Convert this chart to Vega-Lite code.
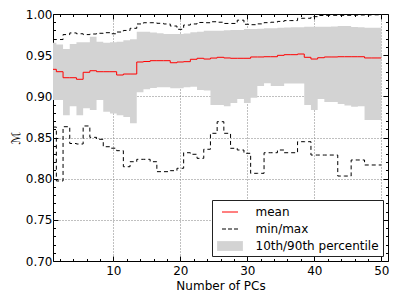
{
  "$schema": "https://vega.github.io/schema/vega-lite/v6.json",
  "width": 335,
  "height": 247,
  "autosize": {"type": "none"},
  "padding": {"left": 53, "top": 14, "right": 11, "bottom": 40},
  "config": {
    "font": "DejaVu Sans",
    "view": {"stroke": "black", "strokeWidth": 1},
    "axis": {
      "labelFont": "DejaVu Sans", "labelFontSize": 12, "labelColor": "black",
      "titleFont": "DejaVu Sans", "titleFontSize": 12, "titleFontWeight": "normal", "titleColor": "black",
      "tickColor": "black", "tickWidth": 1, "domain": false,
      "gridColor": "#808080", "gridDash": [1, 2], "gridWidth": 1,
      "labelFlush": false, "labelOverlap": false
    },
    "legend": {
      "title": null, "orient": "bottom-right", "offset": 5.5, "padding": 3.5,
      "fillColor": "white", "strokeColor": "#222222", "cornerRadius": 0,
      "symbolType": "stroke", "symbolSize": 256, "symbolOffset": 6, "labelOffset": 17,
      "labelFont": "DejaVu Sans", "labelFontSize": 12, "labelColor": "black", "rowPadding": 2
    }
  },
  "data": {"values": [
    {"x":1,"mean":0.9328,"min":0.8627,"max":0.969,"p10":0.8955,"p90":0.965},
    {"x":2,"mean":0.9299,"min":0.7972,"max":0.969,"p10":0.8955,"p90":0.963},
    {"x":3,"mean":0.9226,"min":0.8631,"max":0.975,"p10":0.877,"p90":0.9575},
    {"x":4,"mean":0.9226,"min":0.8427,"max":0.977,"p10":0.888,"p90":0.9636},
    {"x":5,"mean":0.9207,"min":0.8421,"max":0.976,"p10":0.877,"p90":0.9656},
    {"x":6,"mean":0.9292,"min":0.864,"max":0.975,"p10":0.8855,"p90":0.9656},
    {"x":7,"mean":0.9311,"min":0.8502,"max":0.9757,"p10":0.8834,"p90":0.9724},
    {"x":8,"mean":0.9299,"min":0.8478,"max":0.9766,"p10":0.8955,"p90":0.9664},
    {"x":9,"mean":0.9299,"min":0.8388,"max":0.9773,"p10":0.8813,"p90":0.9651},
    {"x":10,"mean":0.9299,"min":0.837,"max":0.976,"p10":0.879,"p90":0.9656},
    {"x":11,"mean":0.9259,"min":0.834,"max":0.9781,"p10":0.877,"p90":0.9664},
    {"x":12,"mean":0.9271,"min":0.8145,"max":0.98,"p10":0.8749,"p90":0.9681},
    {"x":13,"mean":0.9271,"min":0.8206,"max":0.9826,"p10":0.8672,"p90":0.9693},
    {"x":14,"mean":0.9417,"min":0.8235,"max":0.9879,"p10":0.905,"p90":0.9785},
    {"x":15,"mean":0.9423,"min":0.8235,"max":0.9894,"p10":0.9085,"p90":0.9785},
    {"x":16,"mean":0.9433,"min":0.8206,"max":0.9894,"p10":0.91,"p90":0.9775},
    {"x":17,"mean":0.9433,"min":0.8085,"max":0.9887,"p10":0.911,"p90":0.9766},
    {"x":18,"mean":0.9433,"min":0.8085,"max":0.9879,"p10":0.911,"p90":0.9757},
    {"x":19,"mean":0.9408,"min":0.8097,"max":0.9854,"p10":0.9097,"p90":0.9757},
    {"x":20,"mean":0.9417,"min":0.8126,"max":0.9814,"p10":0.9097,"p90":0.9757},
    {"x":21,"mean":0.9421,"min":0.8315,"max":0.9866,"p10":0.911,"p90":0.9763},
    {"x":22,"mean":0.945,"min":0.8296,"max":0.9879,"p10":0.9117,"p90":0.9778},
    {"x":23,"mean":0.9462,"min":0.8247,"max":0.9897,"p10":0.9077,"p90":0.9785},
    {"x":24,"mean":0.9453,"min":0.8357,"max":0.9894,"p10":0.907,"p90":0.9797},
    {"x":25,"mean":0.9465,"min":0.8551,"max":0.9906,"p10":0.8895,"p90":0.9797},
    {"x":26,"mean":0.9474,"min":0.8692,"max":0.99,"p10":0.8895,"p90":0.9797},
    {"x":27,"mean":0.9466,"min":0.8551,"max":0.9885,"p10":0.888,"p90":0.9802},
    {"x":28,"mean":0.9462,"min":0.8369,"max":0.9885,"p10":0.892,"p90":0.9806},
    {"x":29,"mean":0.9462,"min":0.8348,"max":0.9925,"p10":0.8968,"p90":0.9806},
    {"x":30,"mean":0.9462,"min":0.8308,"max":0.9875,"p10":0.892,"p90":0.9818},
    {"x":31,"mean":0.9478,"min":0.8065,"max":0.987,"p10":0.8984,"p90":0.9818},
    {"x":32,"mean":0.9478,"min":0.8065,"max":0.988,"p10":0.9125,"p90":0.9821},
    {"x":33,"mean":0.9481,"min":0.8315,"max":0.9895,"p10":0.9158,"p90":0.9826},
    {"x":34,"mean":0.9481,"min":0.8315,"max":0.99,"p10":0.9125,"p90":0.9826},
    {"x":35,"mean":0.9498,"min":0.8348,"max":0.991,"p10":0.9125,"p90":0.9834},
    {"x":36,"mean":0.9506,"min":0.8315,"max":0.992,"p10":0.9156,"p90":0.9836},
    {"x":37,"mean":0.9506,"min":0.8315,"max":0.992,"p10":0.9156,"p90":0.9838},
    {"x":38,"mean":0.9514,"min":0.8449,"max":0.9948,"p10":0.9156,"p90":0.9838},
    {"x":39,"mean":0.9474,"min":0.8449,"max":0.9948,"p10":0.8895,"p90":0.9846},
    {"x":40,"mean":0.9453,"min":0.8287,"max":0.9968,"p10":0.8834,"p90":0.9846},
    {"x":41,"mean":0.9469,"min":0.8287,"max":0.9982,"p10":0.8968,"p90":0.9846},
    {"x":42,"mean":0.9478,"min":0.8287,"max":0.9984,"p10":0.8931,"p90":0.9846},
    {"x":43,"mean":0.9478,"min":0.8287,"max":0.9984,"p10":0.8931,"p90":0.9848},
    {"x":44,"mean":0.9481,"min":0.8032,"max":0.9984,"p10":0.8907,"p90":0.9854},
    {"x":45,"mean":0.9481,"min":0.8032,"max":0.9984,"p10":0.8889,"p90":0.9854},
    {"x":46,"mean":0.9481,"min":0.8227,"max":0.9986,"p10":0.8874,"p90":0.9842},
    {"x":47,"mean":0.9481,"min":0.8227,"max":0.9988,"p10":0.888,"p90":0.9838},
    {"x":48,"mean":0.9466,"min":0.8166,"max":0.9988,"p10":0.8712,"p90":0.9834},
    {"x":49,"mean":0.9466,"min":0.8166,"max":0.999,"p10":0.8712,"p90":0.9834},
    {"x":50,"mean":0.9466,"min":0.8166,"max":0.999,"p10":0.8712,"p90":0.9834}
  ]},
  "resolve": {"axis": {"x": "independent", "y": "independent"}},
  "layer": [
    {
      "mark": {"type": "area", "interpolate": "step", "opacity": 1},
      "encoding": {
        "x": {"field": "x", "type": "quantitative", "scale": {"domain": [1, 51], "nice": false, "zero": false},
          "title": "Number of PCs",
          "axis": {"orient": "bottom", "values": [2,4,6,8,10,12,14,16,18,20,22,24,26,28,30,32,34,36,38,40,42,44,46,48,50],
            "format": "d", "labelExpr": "datum.value % 10 === 0 ? datum.label : ''",
            "tickSize": {"condition": {"test": "datum.value % 10 === 0", "value": -5}, "value": -2.5},
            "labelPadding": 9, "titlePadding": 2,
            "grid": true, "gridOpacity": {"condition": {"test": "datum.value % 10 === 0", "value": 1}, "value": 0}}},
        "y": {"field": "p10", "type": "quantitative", "scale": {"domain": [0.7, 1.0], "nice": false, "zero": false},
          "title": "ℳ",
          "axis": {"orient": "left", "values": [0.70,0.71,0.72,0.73,0.74,0.75,0.76,0.77,0.78,0.79,0.80,0.81,0.82,0.83,0.84,0.85,0.86,0.87,0.88,0.89,0.90,0.91,0.92,0.93,0.94,0.95,0.96,0.97,0.98,0.99,1.00],
            "format": ".2f", "labelExpr": "round(datum.value*100) % 5 === 0 ? datum.label : ''",
            "tickSize": {"condition": {"test": "round(datum.value*100) % 5 === 0", "value": -5}, "value": -2.5},
            "labelPadding": 6, "titlePadding": 3,
            "grid": true, "gridOpacity": {"condition": {"test": "round(datum.value*100) % 5 === 0 && datum.value > 0.71 && datum.value < 0.99", "value": 1}, "value": 0}}},
        "y2": {"field": "p90"},
        "color": {"datum": "10th/90th percentile", "type": "nominal",
          "scale": {"domain": ["mean", "min/max", "10th/90th percentile"], "range": ["#ff0000", "#000000", "#d3d3d3"]},
          "legend": {"encode": {"symbols": {"update": {
              "shape": {"signal": "datum.value === '10th/90th percentile' ? 'M-1.5625,-0.5625H1.5625V0.5625H-1.5625Z' : 'stroke'"},
              "stroke": {"signal": "datum.value === 'mean' ? '#ff0000' : datum.value === 'min/max' ? '#000000' : 'transparent'"},
              "fill": {"signal": "datum.value === '10th/90th percentile' ? '#d3d3d3' : 'transparent'"},
              "strokeDash": {"signal": "datum.value === 'min/max' ? [4, 2] : [1, 0]"},
              "strokeWidth": {"value": 1},
              "size": {"value": 256},
              "opacity": {"value": 1}}}}}
        }
      }
    },
    {
      "mark": {"type": "line", "interpolate": "step", "strokeWidth": 1},
      "encoding": {
        "x": {"field": "x", "type": "quantitative",
          "axis": {"orient": "top", "values": [2,4,6,8,10,12,14,16,18,20,22,24,26,28,30,32,34,36,38,40,42,44,46,48,50],
            "labels": false, "title": null, "grid": false,
            "tickSize": {"condition": {"test": "datum.value % 10 === 0", "value": -5}, "value": -2.5}}},
        "y": {"field": "mean", "type": "quantitative",
          "axis": {"orient": "right", "values": [0.70,0.71,0.72,0.73,0.74,0.75,0.76,0.77,0.78,0.79,0.80,0.81,0.82,0.83,0.84,0.85,0.86,0.87,0.88,0.89,0.90,0.91,0.92,0.93,0.94,0.95,0.96,0.97,0.98,0.99,1.00],
            "labels": false, "title": null, "grid": false,
            "tickSize": {"condition": {"test": "round(datum.value*100) % 5 === 0", "value": -5}, "value": -2.5}}},
        "color": {"datum": "mean", "type": "nominal",
          "legend": {"encode": {"symbols": {"update": {
              "shape": {"signal": "datum.value === '10th/90th percentile' ? 'M-1.5625,-0.5625H1.5625V0.5625H-1.5625Z' : 'stroke'"},
              "stroke": {"signal": "datum.value === 'mean' ? '#ff0000' : datum.value === 'min/max' ? '#000000' : 'transparent'"},
              "fill": {"signal": "datum.value === '10th/90th percentile' ? '#d3d3d3' : 'transparent'"},
              "strokeDash": {"signal": "datum.value === 'min/max' ? [4, 2] : [1, 0]"},
              "strokeWidth": {"value": 1},
              "size": {"value": 256},
              "opacity": {"value": 1}}}}}}
      }
    },
    {
      "mark": {"type": "line", "interpolate": "step", "strokeWidth": 1, "strokeDash": [4, 3]},
      "encoding": {
        "x": {"field": "x", "type": "quantitative", "axis": null},
        "y": {"field": "max", "type": "quantitative", "axis": null},
        "color": {"datum": "min/max", "type": "nominal",
          "legend": {"encode": {"symbols": {"update": {
              "shape": {"signal": "datum.value === '10th/90th percentile' ? 'M-1.5625,-0.5625H1.5625V0.5625H-1.5625Z' : 'stroke'"},
              "stroke": {"signal": "datum.value === 'mean' ? '#ff0000' : datum.value === 'min/max' ? '#000000' : 'transparent'"},
              "fill": {"signal": "datum.value === '10th/90th percentile' ? '#d3d3d3' : 'transparent'"},
              "strokeDash": {"signal": "datum.value === 'min/max' ? [4, 2] : [1, 0]"},
              "strokeWidth": {"value": 1},
              "size": {"value": 256},
              "opacity": {"value": 1}}}}}}
      }
    },
    {
      "mark": {"type": "line", "interpolate": "step", "strokeWidth": 1, "strokeDash": [4, 3]},
      "encoding": {
        "x": {"field": "x", "type": "quantitative", "axis": null},
        "y": {"field": "min", "type": "quantitative", "axis": null},
        "color": {"datum": "min/max", "type": "nominal",
          "legend": {"encode": {"symbols": {"update": {
              "shape": {"signal": "datum.value === '10th/90th percentile' ? 'M-1.5625,-0.5625H1.5625V0.5625H-1.5625Z' : 'stroke'"},
              "stroke": {"signal": "datum.value === 'mean' ? '#ff0000' : datum.value === 'min/max' ? '#000000' : 'transparent'"},
              "fill": {"signal": "datum.value === '10th/90th percentile' ? '#d3d3d3' : 'transparent'"},
              "strokeDash": {"signal": "datum.value === 'min/max' ? [4, 2] : [1, 0]"},
              "strokeWidth": {"value": 1},
              "size": {"value": 256},
              "opacity": {"value": 1}}}}}}
      }
    }
  ]
}
